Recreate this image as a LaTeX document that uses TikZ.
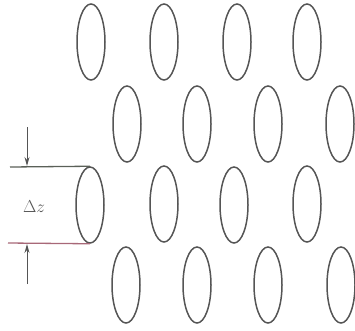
\documentclass[tikz,border=0pt]{standalone}
\usetikzlibrary{shapes.geometric,arrows.meta}
\definecolor{ink}{HTML}{555555}
\definecolor{redline}{HTML}{A86878}
\definecolor{greenline}{HTML}{5A6058}
\begin{document}
\begin{tikzpicture}[x=1pt,y=-1pt,
  cell/.style={ellipse,draw=ink,line width=1.5pt,minimum width=28pt,minimum height=76pt,inner sep=0pt},
  edge/.style={line width=1.3pt},
  dim/.style={draw=ink,line width=1pt,-{Stealth[length=9pt,width=5pt]}}]
\useasboundingbox (0,0) rectangle (355,330);
% row 1
\node[cell] (r1a) at (91,42) {};
\node[cell] (r1b) at (164,42) {};
\node[cell] (r1c) at (237,42) {};
\node[cell] (r1d) at (307,42) {};
% row 2
\node[cell] (r2a) at (127,124) {};
\node[cell] (r2b) at (197,124) {};
\node[cell] (r2c) at (268,124) {};
\node[cell] (r2d) at (340,124) {};
% row 3
\node[cell] (r3a) at (90,205) {};
\node[cell] (r3b) at (164,204) {};
\node[cell] (r3c) at (234,205) {};
\node[cell] (r3d) at (307,204) {};
% row 4
\node[cell] (r4a) at (126,285) {};
\node[cell] (r4b) at (197,285) {};
\node[cell] (r4c) at (268,285) {};
\node[cell] (r4d) at (341,285) {};
% cylinder lines
\coordinate (tl) at (10,167);
\coordinate (bl) at (8,243);
\draw[edge,greenline] (tl) -- (r3a.north);
\draw[edge,redline] (bl) -- (r3a.south);
% dimension arrows
\coordinate (ta) at (27,127);
\coordinate (tt) at (27,166);
\coordinate (ba) at (27,284);
\coordinate (bt) at (27,244);
\draw[dim] (ta) -- (tt);
\draw[dim] (ba) -- (bt);
\node[text=ink,font=\fontsize{17}{20}\selectfont] (dz) at (34,207) {$\Delta z$};
\end{tikzpicture}
\end{document}
